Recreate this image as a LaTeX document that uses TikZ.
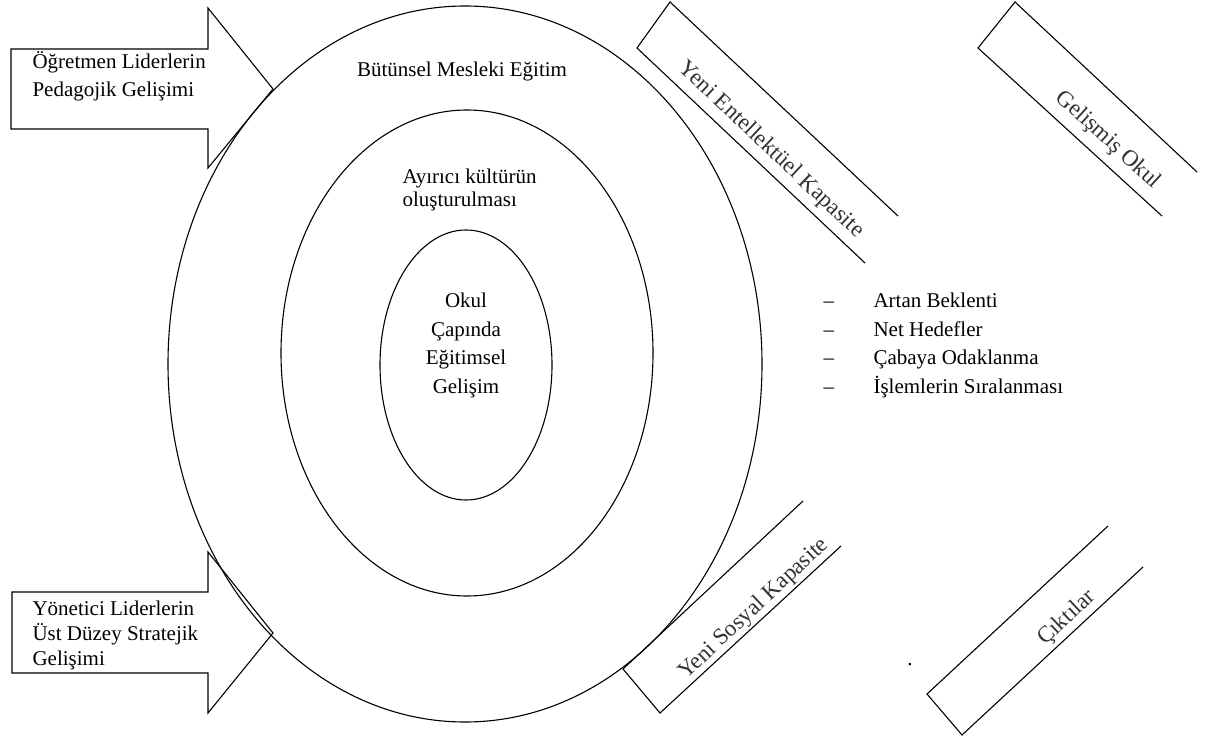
\documentclass[tikz,border=0pt]{standalone}
\usepackage{fontspec}
\setmainfont{Liberation Serif}
\usetikzlibrary{shapes.geometric}
\begin{document}
\begin{tikzpicture}[x=1pt,y=-1pt, line width=1.1pt, line join=miter,
  ring/.style={draw, ellipse, inner sep=0pt},
  bigarrow/.style={draw, fill=white},
  lbl/.style={font=\fontsize{21}{28}\selectfont, inner sep=0pt},
  slant/.style={font=\fontsize{23}{27}\selectfont, text=black!80, inner sep=0pt}]
\useasboundingbox (0,0) rectangle (1207,743);

% input arrows on the left (multi-line labels are placed by their last baseline)
\draw[bigarrow] (11,49) -- (208,49) -- (208,8) -- (273,89) -- (208,168) -- (208,129) -- (11,129) -- cycle;
\draw[bigarrow] (12,592) -- (208,592) -- (208,552) -- (273,633) -- (208,713) -- (208,673) -- (12,673) -- cycle;
\node[lbl, anchor=base west, align=left] (pedag) at (32,97) {Öğretmen Liderlerin\\Pedagojik Gelişimi};
\node[lbl, anchor=base west, align=left, font=\fontsize{21}{25}\selectfont] (strat) at (32,665) {Yönetici Liderlerin\\Üst Düzey Stratejik\\Gelişimi};

% nested rings
\node[ring, minimum width=594pt, minimum height=716pt] (outer) at (465,364) {};
\node[ring, minimum width=372pt, minimum height=486pt] (middle) at (467,353) {};
\node[ring, minimum width=172pt, minimum height=270pt] (inner) at (466,365) {};

\node[lbl, anchor=base] (whole) at (462,77) {Bütünsel Mesleki Eğitim};
\node[lbl, anchor=base west, align=left, font=\fontsize{21}{23}\selectfont] (culture) at (402,207) {Ayırıcı kültürün\\oluşturulması};
\node[lbl, anchor=base, align=center, font=\fontsize{21}{28.4}\selectfont] (school) at (466,393) {Okul\\Çapında\\Eğitimsel\\Gelişim};

% open-ended slanted bands
\coordinate (a1) at (898,216); \coordinate (a2) at (670,2);
\coordinate (a3) at (637,48);  \coordinate (a4) at (865,263);
\draw (a1) -- (a2) -- (a3) -- (a4);
\node[slant, rotate=-43.3] (intel) at (771,150) {Yeni Entellektüel Kapasite};

\coordinate (b1) at (1197,172); \coordinate (b2) at (1015,2);
\coordinate (b3) at (978,48);   \coordinate (b4) at (1162,216);
\draw (b1) -- (b2) -- (b3) -- (b4);
\node[slant, rotate=-42.4] (school2) at (1108,140) {Gelişmiş Okul};

\coordinate (c1) at (803,501); \coordinate (c2) at (623,669);
\coordinate (c3) at (660,713); \coordinate (c4) at (841,546);
\draw (c1) -- (c2) -- (c3) -- (c4);
\node[slant, rotate=43.0] (social) at (754,609) {Yeni Sosyal Kapasite};

\coordinate (d1) at (1108,526); \coordinate (d2) at (927,694);
\coordinate (d3) at (962,735);  \coordinate (d4) at (1143,567);
\draw (d1) -- (d2) -- (d3) -- (d4);
\node[slant, rotate=42.9] (outputs) at (1067,618) {Çıktılar};

% list of conditions
\node[lbl, anchor=base west, align=left, font=\fontsize{21}{28.4}\selectfont] (list) at (823,393)
  {\makebox[50pt][l]{–}Artan Beklenti\\
   \makebox[50pt][l]{–}Net Hedefler\\
   \makebox[50pt][l]{–}Çabaya Odaklanma\\
   \makebox[50pt][l]{–}İşlemlerin Sıralanması};

\node[lbl, anchor=base] (dot) at (910,665) {.};
\end{tikzpicture}
\end{document}
